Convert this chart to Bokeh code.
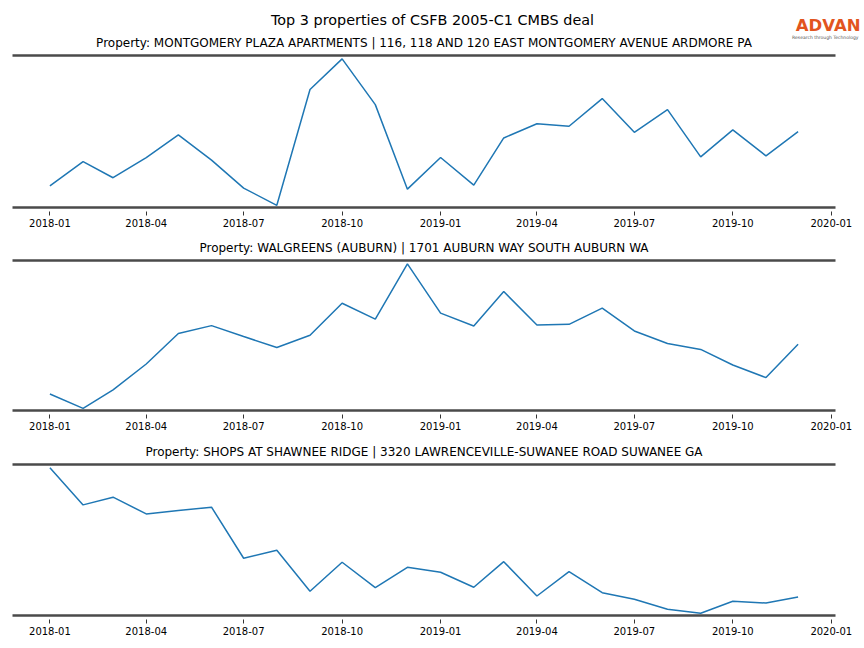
import pandas as pd
from bokeh.plotting import figure
from bokeh.layouts import column
from bokeh.models import (Title, Label, LinearAxis, DatetimeTickFormatter,
                          MonthsTicker, Range1d)
from bokeh.embed import file_html
from bokeh.resources import INLINE

# ---------------- data ----------------
months = pd.date_range("2018-01-01", "2019-12-01", freq="MS")

main_title = "Top 3 properties of CSFB 2005-C1 CMBS deal"
panel_titles = [
    "Property: MONTGOMERY PLAZA APARTMENTS | 116, 118 AND 120 EAST MONTGOMERY AVENUE ARDMORE PA",
    "Property: WALGREENS (AUBURN) | 1701 AUBURN WAY SOUTH AUBURN WA",
    "Property: SHOPS AT SHAWNEE RIDGE | 3320 LAWRENCEVILLE-SUWANEE ROAD SUWANEE GA",
]

montgomery = [22.0, 46.0, 30.0, 50.0, 72.4, 47.4, 19.7, 2.7, 117.4, 147.7, 102.4, 18.7,
              50.0, 22.7, 69.4, 83.4, 81.0, 108.4, 75.0, 97.4, 50.7, 77.4, 51.7, 75.7]
walgreens = [15.4, 1.0, 19.7, 45.7, 76.4, 84.4, 73.4, 62.4, 74.7, 107.0, 91.0, 146.7,
             97.0, 84.0, 118.7, 85.0, 85.7, 102.0, 79.0, 66.4, 60.4, 44.7, 32.0, 65.7]
shawnee = [147.7, 110.7, 118.4, 101.7, 105.0, 108.4, 57.4, 65.4, 24.4, 53.4, 28.0, 48.4,
           43.4, 28.4, 54.0, 19.7, 44.0, 23.0, 16.4, 6.4, 2.4, 14.4, 12.7, 18.7]
series = [montgomery, walgreens, shawnee]

tick_months = [0, 3, 6, 9]  # Jan, Apr, Jul, Oct

logo_text = "ADVAN"
logo_tagline = "Research through Technology"

# ---------------- styling ----------------
FONT = "DejaVu Sans"
LINE_COLOR = "#1f77b4"
SPINE_COLOR = "#4a4a4a"
W = 864

span = months[-1] - months[0]
x_start = months[0] - span * 0.05
x_end = months[-1] + span * 0.05

# header: main title, logo, first panel title
H0 = 50
head = figure(width=W, height=H0, output_backend="svg", toolbar_location=None,
              x_axis_location=None, y_axis_location=None,
              x_range=Range1d(0, 1), y_range=Range1d(0, 1),
              min_border_left=0, min_border_right=0,
              min_border_top=0, min_border_bottom=0)
head.frame_align = False
head.outline_line_color = None
head.xgrid.visible = False
head.ygrid.visible = False
head.add_layout(Label(x=432, y=H0 - 19, x_units="screen", y_units="screen",
                      text=main_title, text_align="center", text_baseline="middle",
                      text_font=FONT, text_font_size="14.4px", text_color="black"))
head.add_layout(Label(x=860, y=H0 - 25, x_units="screen", y_units="screen",
                      text=logo_text, text_align="right", text_baseline="middle",
                      text_font=FONT, text_font_size="16.5px", text_font_style="bold",
                      text_color="#e2541e"))
head.add_layout(Label(x=858, y=H0 - 37, x_units="screen", y_units="screen",
                      text=logo_tagline, text_align="right", text_baseline="middle",
                      text_font=FONT, text_font_size="4.5px", text_color="#555555"))
head.add_layout(Label(x=423.5, y=H0 - 42, x_units="screen", y_units="screen",
                      text=panel_titles[0], text_align="center", text_baseline="middle",
                      text_font=FONT, text_font_size="12px", text_color="black"))

heights = [182, 204, 210]
tops = [5, 28, 28]
bottoms = [25, 26, 31]

figs = [head]
for i, vals in enumerate(series):
    lo, hi = min(vals), max(vals)
    r = hi - lo
    p = figure(width=W, height=heights[i], output_backend="svg",
               toolbar_location=None, x_axis_type="datetime",
               y_axis_location=None,
               x_range=Range1d(x_start, x_end),
               y_range=Range1d(lo - 0.015 * r, hi + 0.023 * r),
               min_border_left=12, min_border_right=29,
               min_border_top=tops[i], min_border_bottom=bottoms[i])
    p.outline_line_color = None
    p.xgrid.visible = False
    p.ygrid.visible = False

    p.line(x=months, y=vals, line_color=LINE_COLOR, line_width=1.5)

    ax = p.xaxis[0]
    ax.ticker = MonthsTicker(months=tick_months)
    ax.formatter = DatetimeTickFormatter(months="%Y-%m", days="%Y-%m",
                                         years="%Y-%m")
    ax.axis_line_color = SPINE_COLOR
    ax.axis_line_width = 2.5
    ax.major_tick_in = -4
    ax.major_tick_out = 8
    ax.major_tick_line_color = "black"
    ax.major_tick_line_width = 0.8
    ax.minor_tick_line_color = None
    ax.major_label_text_font = FONT
    ax.major_label_text_font_size = "10px"
    ax.major_label_text_color = "black"
    ax.major_label_standoff = 3

    top_ax = LinearAxis(axis_line_color=SPINE_COLOR, axis_line_width=2.5,
                        major_tick_line_color=None, minor_tick_line_color=None,
                        major_label_text_font_size="0px", major_label_standoff=0,
                        major_tick_out=0, major_tick_in=0)
    top_ax.ticker.desired_num_ticks = 0
    p.add_layout(top_ax, "above")

    if i > 0:
        p.add_layout(Title(text=panel_titles[i], align="center", text_font=FONT,
                           text_font_size="12px", text_font_style="normal",
                           text_color="black", standoff=12), "above")
    figs.append(p)

layout = column(*figs, spacing=0)
open("out.html", "w").write(file_html(layout, INLINE))
